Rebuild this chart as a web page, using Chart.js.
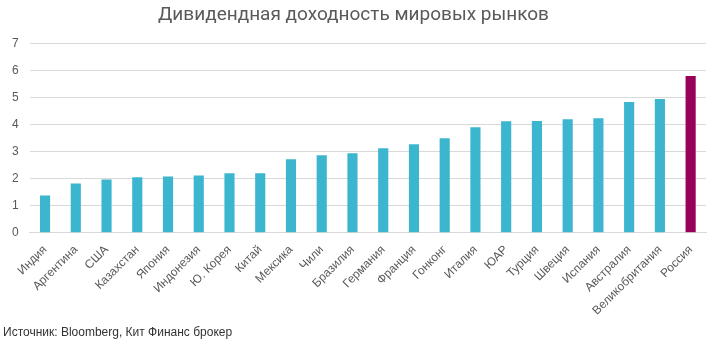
<!DOCTYPE html>
<html>
<head>
<meta charset="utf-8">
<script src="https://cdn.jsdelivr.net/npm/chart.js@4"></script>
<style>
  html, body { margin: 0; padding: 0; background: #fff; }
  #wrap { position: relative; width: 715px; height: 346px; }
  #source { position: absolute; left: 3px; top: 325px; font: 12px "Liberation Sans", Arial, sans-serif; color: #333; }
</style>
</head>
<body>
<div id="wrap">
  <canvas id="chart" width="715" height="346"></canvas>
  <div id="source">Источник: Bloomberg, Кит Финанс брокер</div>
</div>
<script>
  "use strict";

  var countries = ["Индия", "Аргентина", "США", "Казахстан", "Япония", "Индонезия", "Ю. Корея", "Китай",
    "Мексика", "Чили", "Бразилия", "Германия", "Франция", "Гонконг", "Италия", "ЮАР", "Турция",
    "Швеция", "Испания", "Австралия", "Великобритания", "Россия"];
  var yields = [1.38, 1.82, 1.97, 2.05, 2.08, 2.12, 2.2, 2.2, 2.72, 2.87, 2.94, 3.13, 3.28, 3.5,
    3.91, 4.13, 4.14, 4.2, 4.24, 4.84, 4.95, 5.81];
  var yTicks = [0, 1, 2, 3, 4, 5, 6, 7];

  var barColors = countries.map(function (c) {
    return c === "Россия" ? "#990059" : "#3CB6CE";
  });

  var ctx = document.getElementById("chart").getContext("2d");
  new Chart(ctx, {
    type: "bar",
    data: {
      labels: countries,
      datasets: [{
        data: yields,
        backgroundColor: barColors,
        barPercentage: 0.33,
        categoryPercentage: 1
      }]
    },
    options: {
      responsive: false,
      animation: false,
      layout: { padding: { left: 1, right: 9, top: 0, bottom: 26 } },
      plugins: {
        legend: { display: false },
        tooltip: { enabled: false },
        title: {
          display: true,
          text: "Дивидендная доходность мировых рынков",
          color: "#595959",
          font: { family: "Liberation Sans Narrow, Roboto, sans-serif", size: 19, weight: "normal" },
          padding: { top: 4, bottom: 17 }
        }
      },
      scales: {
        x: {
          grid: { display: false },
          border: { color: "#d9d9d9" },
          ticks: {
            color: "#595959",
            font: { family: "Liberation Sans, Arial, sans-serif", size: 12 },
            maxRotation: 45,
            minRotation: 45,
            autoSkip: false,
            padding: 2
          }
        },
        y: {
          min: yTicks[0],
          max: yTicks[yTicks.length - 1],
          afterBuildTicks: function (axis) {
            axis.ticks = yTicks.map(function (v) { return { value: v }; });
          },
          grid: { color: "#d9d9d9", drawTicks: false },
          border: { display: false },
          ticks: {
            color: "#595959",
            font: { family: "Liberation Sans, Arial, sans-serif", size: 12 },
            padding: 11
          }
        }
      }
    }
  });
</script>
</body>
</html>
